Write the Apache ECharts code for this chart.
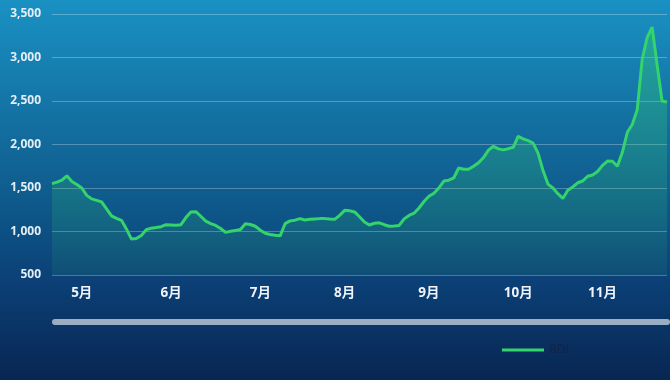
<!DOCTYPE html>
<html>
<head>
<meta charset="utf-8">
<script src="https://cdn.jsdelivr.net/npm/echarts@6/dist/echarts.min.js"></script>
<style>
html,body{margin:0;padding:0;}
#chart{width:670px;height:380px;}
</style>
</head>
<body>
<div id="chart"></div>
<script>
// BDI values (trading days)
const bdiValues = [
  1550,1568,1590,1640,1575,1540,1500,1415,1375,1358,
  1340,1260,1180,1150,1128,1030,915,920,955,1020,
  1038,1046,1055,1078,1075,1072,1078,1160,1225,1228,
  1175,1120,1090,1070,1035,990,1002,1012,1022,1088,
  1080,1060,1015,980,965,956,950,1090,1122,1130,
  1148,1132,1141,1145,1148,1148,1143,1140,1185,1243,
  1238,1225,1170,1110,1075,1095,1100,1078,1060,1062,
  1070,1145,1185,1210,1270,1345,1405,1440,1500,1580,
  1590,1615,1730,1715,1715,1750,1790,1850,1935,1980,
  1950,1938,1952,1968,2095,2065,2045,2015,1900,1700,
  1545,1500,1435,1380,1475,1512,1560,1580,1635,1650,
  1690,1760,1809,1808,1750,1910,2140,2230,2401,2980,
  3230,3350,2916,2500,2489
];
const monthLabels = ['5月','6月','7月','8月','9月','10月','11月'];
const monthLabelIndex = [6,24,42,59,76,94,111];
const yTicks = [500,1000,1500,2000,2500,3000,3500];
const seriesName = 'BDI';

const categories = bdiValues.map(function(v, i){
  const k = monthLabelIndex.indexOf(i);
  return k >= 0 ? monthLabels[k] : '';
});

const chart = echarts.init(document.getElementById('chart'), null, {renderer:'canvas'});
const font = '"Open Sans","Noto Sans CJK SC",sans-serif';
chart.setOption({
  animation: false,
  backgroundColor: {
    type: 'linear', x: 0, y: 0, x2: 0, y2: 1,
    colorStops: [
      {offset: 0, color: '#1a91c3'},
      {offset: 0.5, color: '#0f5d8e'},
      {offset: 0.75, color: '#0b3f75'},
      {offset: 1, color: '#082652'}
    ]
  },
  grid: {left: 52, right: 0, top: 14, bottom: 105, containLabel: false},
  legend: {
    data: [{name: seriesName, icon: 'rect'}],
    left: 497, top: 339,
    itemWidth: 42, itemHeight: 3, itemGap: 6,
    textStyle: {color: '#10244a', fontSize: 12, fontFamily: font}
  },
  graphic: [{
    type: 'rect', silent: true,
    shape: {x: 52, y: 319, width: 618, height: 6, r: 3},
    style: {fill: '#9badc2'}
  }],
  xAxis: {
    type: 'category',
    data: categories,
    boundaryGap: false,
    axisLine: {show: false},
    axisTick: {show: false},
    splitLine: {show: false},
    axisLabel: {
      interval: 0,
      color: '#eef4fa',
      fontWeight: 'bold',
      fontSize: 13.5,
      fontFamily: font,
      margin: 11
    }
  },
  yAxis: {
    type: 'value',
    min: yTicks[0], max: yTicks[yTicks.length-1], interval: 500,
    axisLine: {show: false},
    axisTick: {show: false},
    axisLabel: {
      color: '#e3eef6', fontWeight: 'bold', fontSize: 12, fontFamily: font, margin: 11,
      formatter: function(v){ return v.toLocaleString('en-US'); }
    },
    splitLine: {lineStyle: {color: 'rgba(255,255,255,0.28)', width: 1}}
  },
  series: [{
    name: seriesName,
    type: 'line',
    data: bdiValues,
    symbol: 'none',
    smooth: false,
    lineStyle: {color: '#34d36c', width: 3},
    itemStyle: {color: '#34d36c'},
    areaStyle: {
      color: {
        type: 'linear', x: 0, y: 0, x2: 0, y2: 1,
        colorStops: [
          {offset: 0, color: 'rgba(52,211,108,0.55)'},
          {offset: 1, color: 'rgba(52,211,108,0.12)'}
        ]
      }
    }
  }]
});
</script>
</body>
</html>
